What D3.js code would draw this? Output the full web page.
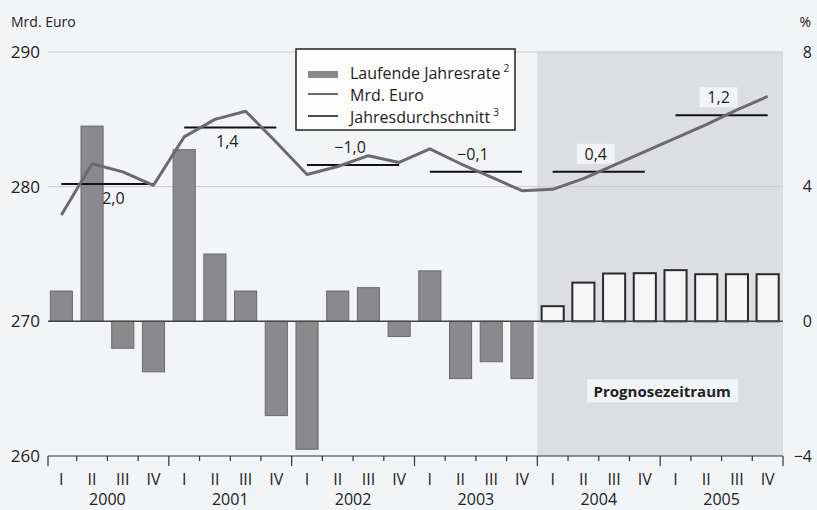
<!DOCTYPE html>
<html>
<head>
<meta charset="utf-8">
<script src="https://cdn.jsdelivr.net/npm/d3@7"></script>
<style>
  body { margin: 0; background: #f3f4f6; }
  svg { display: block; font-family: "Open Sans", sans-serif; }
</style>
</head>
<body>
<div id="chart"></div>
<script>
// quarters 2000 Q1 .. 2005 Q4
const years = [2000, 2001, 2002, 2003, 2004, 2005];
const quarterNames = ["I", "II", "III", "IV"];
// Laufende Jahresrate in %
const rate = [0.9, 5.8, -0.8, -1.5, 5.1, 2.0, 0.9, -2.8, -3.8, 0.9, 1.0, -0.45,
              1.5, -1.7, -1.2, -1.7, 0.45, 1.15, 1.42, 1.43, 1.52, 1.4, 1.4, 1.4];
// Mrd. Euro
const level = [277.9, 281.7, 281.1, 280.1, 283.7, 285.0, 285.6, 283.3, 280.9, 281.5, 282.3, 281.8,
               282.8, 281.7, 280.7, 279.7, 279.8, 280.6, 281.6, 282.6, 283.6, 284.6, 285.7, 286.7];
// Jahresdurchschnitt
const yearAvg = [280.2, 284.4, 281.6, 281.1, 281.1, 285.3];
const yearGrowth = ["2,0", "1,4", "\u22121,0", "\u22120,1", "0,4", "1,2"];
const leftTicks = [260, 270, 280, 290];
const rightTicks = [-4, 0, 4, 8];
const forecastStart = 16;

const width = 817, height = 510;
const x0 = 46, x1 = 783, yTop = 52, yBot = 456;

const svg = d3.select("#chart").append("svg")
    .attr("width", width)
    .attr("height", height);

const idx = d3.range(rate.length);
const x = d3.scaleBand().domain(idx).range([x0, x1]).paddingInner(0.28).paddingOuter(0.14);
const step = x.step();
const cx = i => x(i) + x.bandwidth() / 2;
const edge = i => x0 + i * step;

const yL = d3.scaleLinear().domain([260, 290]).range([yBot, yTop]);
const yR = d3.scaleLinear().domain([-4, 8]).range([yBot, yTop]);

// forecast shading
svg.append("rect")
    .attr("x", edge(forecastStart)).attr("y", yTop)
    .attr("width", x1 - edge(forecastStart)).attr("height", yBot - yTop)
    .attr("fill", "#dddee1");

// grid lines
svg.append("g").selectAll("line")
    .data([280, 290])
    .join("line")
    .attr("x1", 48).attr("x2", x1)
    .attr("y1", d => yL(d)).attr("y2", d => yL(d))
    .attr("stroke", "#c8c9cc").attr("stroke-width", 1);

// bars
svg.append("g").selectAll("rect")
    .data(idx)
    .join("rect")
    .attr("x", i => x(i))
    .attr("width", x.bandwidth())
    .attr("y", i => yR(Math.max(0, rate[i])))
    .attr("height", i => Math.abs(yR(rate[i]) - yR(0)))
    .attr("fill", i => i >= forecastStart ? "#f6f6f7" : "#8a8a8c")
    .attr("stroke", i => i >= forecastStart ? "#2a2a2c" : "#6a6a6c")
    .attr("stroke-width", i => i >= forecastStart ? 2 : 1);

// zero line
svg.append("line")
    .attr("x1", 48).attr("x2", x1)
    .attr("y1", yR(0)).attr("y2", yR(0))
    .attr("stroke", "#444").attr("stroke-width", 1.5);

// growth labels (under the lines)
const below = [true, true, false, false, false, false];
const gl = svg.append("g").selectAll("g")
    .data(years)
    .join("g")
    .attr("transform", (d, j) => {
        const mx = (cx(j * 4) + cx(j * 4 + 3)) / 2 + (j === 0 ? 6 : -3);
        const by = yL(yearAvg[j]) + (below[j] ? 20 : -12);
        return `translate(${mx},${by})`;
    });
gl.append("rect")
    .attr("x", (d, j) => -yearGrowth[j].length * 5 - 4)
    .attr("y", -16)
    .attr("width", (d, j) => yearGrowth[j].length * 10 + 8)
    .attr("height", 20)
    .attr("fill", (d, j) => j * 4 >= forecastStart ? "#f3f4f6" : "none");
gl.append("text")
    .attr("text-anchor", "middle")
    .attr("font-size", 16)
    .attr("fill", "#222")
    .text((d, j) => yearGrowth[j]);

// annual average segments
svg.append("g").selectAll("line")
    .data(years)
    .join("line")
    .attr("x1", (d, j) => cx(j * 4))
    .attr("x2", (d, j) => cx(j * 4 + 3))
    .attr("y1", (d, j) => yL(yearAvg[j]))
    .attr("y2", (d, j) => yL(yearAvg[j]))
    .attr("stroke", "#111").attr("stroke-width", 2);

// Mrd. Euro line
svg.append("path")
    .datum(idx)
    .attr("fill", "none")
    .attr("stroke", "#6b6b6d")
    .attr("stroke-width", 3)
    .attr("stroke-linejoin", "round")
    .attr("d", d3.line().x(i => cx(i)).y(i => yL(level[i])));

// Prognosezeitraum label
const pg = svg.append("g")
    .attr("transform", `translate(${(edge(forecastStart) + x1) / 2 + 2},${yL(264.8)})`);
pg.append("rect")
    .attr("x", -75).attr("y", -12).attr("width", 151).attr("height", 23)
    .attr("fill", "#f3f4f6");
pg.append("text")
    .attr("text-anchor", "middle").attr("dy", "0.35em")
    .attr("font-size", 15).attr("font-weight", "bold")
    .attr("fill", "#222")
    .text("Prognosezeitraum");

// left axis labels
svg.append("g")
    .attr("transform", `translate(${42},0)`)
    .call(d3.axisLeft(yL).tickValues(leftTicks).tickSize(0).tickPadding(2))
    .call(g => g.select(".domain").remove())
    .call(g => g.selectAll("text").attr("font-size", 17).attr("fill", "#222").attr("font-family", "Open Sans"));

// right axis labels
svg.append("g")
    .attr("transform", `translate(${812},0)`)
    .call(d3.axisLeft(yR).tickValues(rightTicks).tickSize(0).tickPadding(0)
        .tickFormat(d => d < 0 ? "\u2212" + Math.abs(d) : d))
    .call(g => g.select(".domain").remove())
    .call(g => g.selectAll("text").attr("font-size", 16).attr("fill", "#222").attr("font-family", "Open Sans"));

svg.append("text").attr("x", 11).attr("y", 27).attr("font-size", 14).attr("fill", "#222").text("Mrd. Euro");
svg.append("text").attr("x", 811).attr("y", 27).attr("text-anchor", "end").attr("font-size", 14).attr("fill", "#222").text("%");

// bottom axis
const bottom = svg.append("g");
bottom.append("line")
    .attr("x1", 48).attr("x2", x1)
    .attr("y1", yBot).attr("y2", yBot)
    .attr("stroke", "#333").attr("stroke-width", 1.2);
bottom.selectAll("line.tick")
    .data(d3.range(rate.length + 1))
    .join("line")
    .attr("class", "tick")
    .attr("x1", k => k === 0 ? 48 : edge(k)).attr("x2", k => k === 0 ? 48 : edge(k))
    .attr("y1", yBot).attr("y2", k => yBot + (k % 4 === 0 ? 10 : 5))
    .attr("stroke", "#333").attr("stroke-width", 1.2);

svg.append("g")
    .attr("transform", `translate(0,${yBot})`)
    .call(d3.axisBottom(x).tickSize(0).tickPadding(18).tickFormat(i => quarterNames[i % 4]))
    .call(g => g.select(".domain").remove())
    .call(g => g.selectAll("text").attr("font-size", 16).attr("fill", "#222").attr("font-family", "Open Sans"));

svg.append("g").selectAll("text")
    .data(years)
    .join("text")
    .attr("x", (d, j) => (edge(j * 4) + edge(j * 4 + 4)) / 2)
    .attr("y", 505)
    .attr("text-anchor", "middle")
    .attr("font-size", 16)
    .attr("fill", "#222")
    .text(d => d);

// legend
const lg = svg.append("g").attr("transform", "translate(296,49)");
lg.append("rect")
    .attr("width", 219).attr("height", 81)
    .attr("fill", "#fdfdfd").attr("stroke", "#222").attr("stroke-width", 1.5);
lg.append("rect")
    .attr("x", 12).attr("y", 22).attr("width", 30).attr("height", 7)
    .attr("fill", "#8a8a8c");
lg.append("line")
    .attr("x1", 12).attr("x2", 42).attr("y1", 45).attr("y2", 45)
    .attr("stroke", "#6b6b6d").attr("stroke-width", 2);
lg.append("line")
    .attr("x1", 12).attr("x2", 42).attr("y1", 67).attr("y2", 67)
    .attr("stroke", "#111").attr("stroke-width", 1.5);
const legendItems = [["Laufende Jahresrate", "2"], ["Mrd. Euro", ""], ["Jahresdurchschnitt", "3"]];
const lt = lg.selectAll("text.item")
    .data(legendItems)
    .join("text")
    .attr("class", "item")
    .attr("x", 54)
    .attr("y", (d, k) => 30 + k * 22)
    .attr("font-size", 16)
    .attr("fill", "#222");
lt.append("tspan").text(d => d[0]);
lt.append("tspan").attr("dx", 3).attr("dy", -7).attr("font-size", 10).text(d => d[1]);
</script>
</body>
</html>
